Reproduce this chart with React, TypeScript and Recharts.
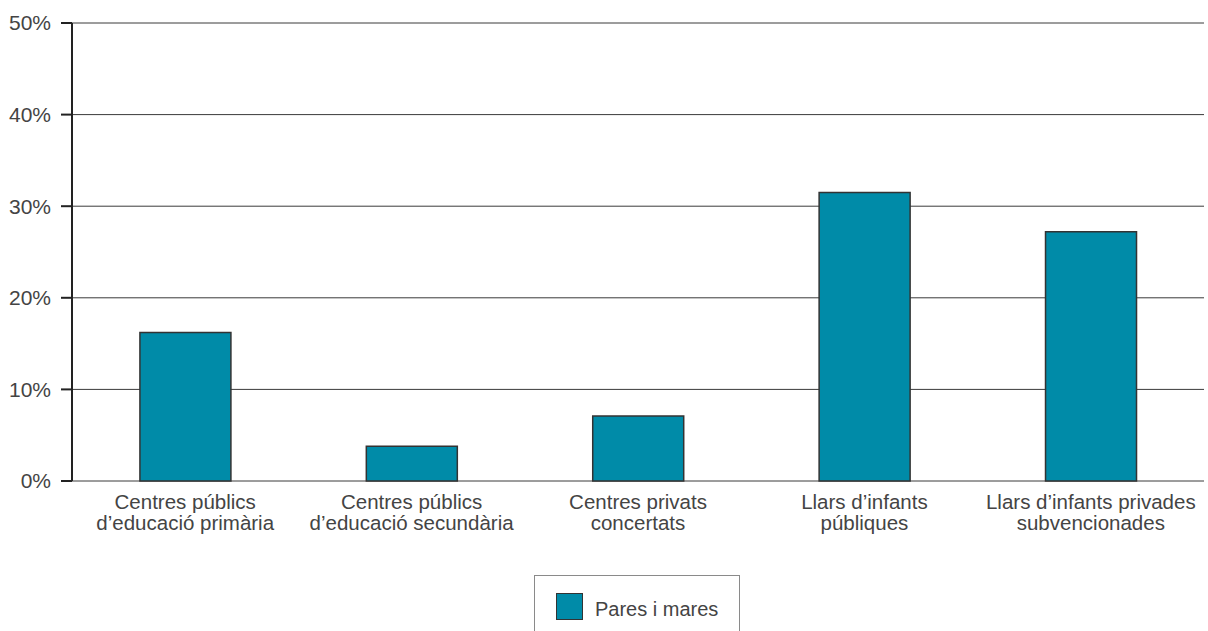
import { BarChart, Bar, XAxis, YAxis, CartesianGrid, Legend } from 'recharts'

const categoryLines: string[][] = [
  ['Centres públics', 'd’educació primària'],
  ['Centres públics', 'd’educació secundària'],
  ['Centres privats', 'concertats'],
  ['Llars d’infants', 'públiques'],
  ['Llars d’infants privades', 'subvencionades'],
]
const paresIMares = [16.2, 3.8, 7.1, 31.5, 27.2]
const yTicks = [0, 10, 20, 30, 40, 50]
const boundaryTicks = [0, 1, 2, 3, 4]
const seriesName = 'Pares i mares'

const data = categoryLines.map((lines, i) => ({
  name: lines.join(' '),
  value: paresIMares[i],
}))

const TEAL = '#008ba8'
const INK = '#222'
const TEXT = '#444'
const FONT = '"Liberation Sans", Arial, sans-serif'

interface TickProps {
  x?: number
  y?: number
  index?: number
}

function CategoryTick({ x = 0, y = 0, index = 0 }: TickProps) {
  const lines = categoryLines[index] || []
  return (
    <g transform={`translate(${x},${y})`}>
      {lines.map((line, i) => (
        <text
          key={i}
          x={0}
          y={20 + i * 21}
          textAnchor="middle"
          fill={TEXT}
          fontSize={20.5}
          fontFamily={FONT}
        >
          {line}
        </text>
      ))}
    </g>
  )
}

function LegendBox() {
  return (
    <div
      style={{
        boxSizing: 'border-box',
        width: 206,
        height: 70,
        border: '1px solid #8a8a8a',
        borderBottom: 'none',
        position: 'relative',
        fontFamily: FONT,
      }}
    >
      <div
        style={{
          position: 'absolute',
          left: 21,
          top: 17,
          width: 25,
          height: 25,
          background: TEAL,
          border: '1.5px solid #333',
        }}
      />
      <div
        style={{
          position: 'absolute',
          left: 60,
          top: 20,
          fontSize: 20,
          color: TEXT,
          lineHeight: '26px',
          whiteSpace: 'nowrap',
        }}
      >
        {seriesName}
      </div>
    </div>
  )
}

export default function App() {
  return (
    <div style={{ position: 'absolute', left: 0, top: 0, background: '#fff' }}>
      <BarChart
        width={1208}
        height={631}
        data={data}
        margin={{ top: 23, right: 4, left: 0, bottom: 90 }}
        barCategoryGap="30%"
      >
        <CartesianGrid horizontal vertical={false} stroke="#3a3a3a" strokeWidth={1} />
        <XAxis
          xAxisId="bounds"
          type="number"
          dataKey="none"
          domain={[0, 5]}
          ticks={boundaryTicks}
          height={0}
          tickSize={9}
          tickFormatter={() => ''}
          axisLine={{ stroke: INK, strokeWidth: 2 }}
          tickLine={{ stroke: INK, strokeWidth: 2 }}
        />
        <XAxis
          xAxisId="cat"
          dataKey="name"
          height={60}
          axisLine={false}
          tickLine={false}
          interval={0}
          tick={<CategoryTick />}
        />
        <YAxis
          width={72}
          domain={[0, 50]}
          ticks={yTicks}
          tickFormatter={(v: number) => `${v}%`}
          tickSize={11}
          tickMargin={10}
          axisLine={{ stroke: INK, strokeWidth: 2 }}
          tickLine={{ stroke: INK, strokeWidth: 2 }}
          tick={{ fill: TEXT, fontSize: 21, fontFamily: FONT }}
        />
        <Legend
          layout="horizontal"
          verticalAlign="middle"
          align="center"
          content={<LegendBox />}
          wrapperStyle={{ position: 'absolute', left: 534, top: 575, width: 206, height: 70 }}
        />
        <Bar
          xAxisId="cat"
          dataKey="value"
          name={seriesName}
          fill={TEAL}
          stroke="#333"
          strokeWidth={1.5}
          isAnimationActive={false}
        />
      </BarChart>
    </div>
  )
}
